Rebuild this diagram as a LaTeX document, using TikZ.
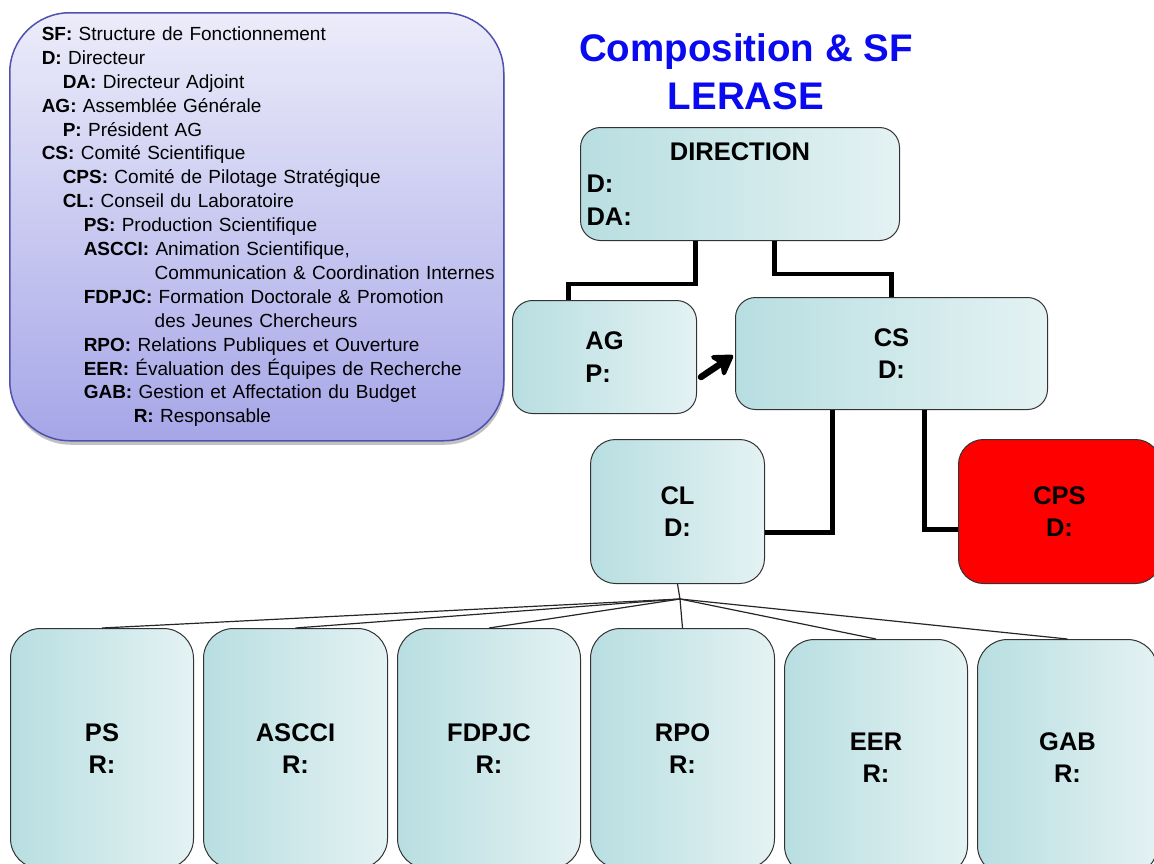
\documentclass[tikz,border=0pt]{standalone}
\usepackage{fontspec}
\setmainfont{Liberation Sans}
\usetikzlibrary{arrows.meta,shadows}
\definecolor{lavtop}{HTML}{ECECFA}
\definecolor{lavbot}{HTML}{A6A6E8}
\definecolor{lavline}{HTML}{5050AE}
\definecolor{tealL}{HTML}{B8DEE1}
\definecolor{tealR}{HTML}{E4F2F3}
\definecolor{boxline}{HTML}{333333}
\definecolor{titleblue}{HTML}{0A0AF0}
\newcommand{\legitem}[3]{\hspace*{#1pt}\textbf{#2:} #3}
\begin{document}
\begin{tikzpicture}[x=1pt,y=-1pt,
  orgbox/.style={draw=boxline, line width=1pt, rounded corners=20pt, anchor=north west,
    inner sep=0pt, font=\fontsize{25.5}{32.5}\selectfont\bfseries},
  tealbox/.style={orgbox, left color=tealL, right color=tealR},
  redbox/.style={orgbox, fill=red},
  thickconn/.style={line width=4.5pt, line join=miter},
  thinconn/.style={line width=1.2pt, draw=black!85},
  legendbox/.style={draw=lavline, line width=1.5pt, rounded corners=60pt, top color=lavtop,
    bottom color=lavbot, anchor=north west, minimum width=494pt, minimum height=428pt,
    inner xsep=7pt, inner ysep=0pt, text width=480pt, align=left,
    font=\fontsize{19}{23.9}\selectfont,
    drop shadow={shadow xshift=1pt, shadow yshift=-4pt, opacity=0.35, fill=black!70}},
  titletext/.style={text=titleblue, font=\fontsize{38.5}{48}\selectfont\bfseries, align=center, inner sep=0pt},
  bigarrow/.style={line width=6.5pt, line cap=round,
    -{Stealth[length=24pt 0, width=30pt 0, inset=7pt 0, round]}}
]
\useasboundingbox (0,0) rectangle (1154,863);
\clip (0,0) rectangle (1154,863);

% legend
\node[legendbox] (legend) at (9,12) {%
\legitem{25}{SF}{Structure de Fonctionnement}\\
\legitem{25}{D}{Directeur}\\
\legitem{46}{DA}{Directeur Adjoint}\\
\legitem{25}{AG}{Assemblée Générale}\\
\legitem{46}{P}{Président AG}\\
\legitem{25}{CS}{Comité Scientifique}\\
\legitem{46}{CPS}{Comité de Pilotage Stratégique}\\
\legitem{46}{CL}{Conseil du Laboratoire}\\
\legitem{67}{PS}{Production Scientifique}\\
\legitem{67}{ASCCI}{Animation Scientifique,}\\
\hspace*{138pt}Communication \& Coordination Internes\\
\legitem{67}{FDPJC}{Formation Doctorale \& Promotion}\\
\hspace*{138pt}des Jeunes Chercheurs\\
\legitem{67}{RPO}{Relations Publiques et Ouverture}\\
\legitem{67}{EER}{Évaluation des Équipes de Recherche}\\
\legitem{67}{GAB}{Gestion et Affectation du Budget}\\
\legitem{117}{R}{Responsable}};

% title
\node[titletext] (title) at (746,72) {Composition \& SF\\LERASE};

% boxes
\node[tealbox, minimum width=319pt, minimum height=113pt, inner xsep=6pt, text width=307pt, align=left] (dir) at (580,127)
  {\makebox[307pt][c]{DIRECTION}\\D:\\DA:};
\node[tealbox, minimum width=184pt, minimum height=113pt, align=left] (ag) at (512,300) {AG\\P:};
\node[tealbox, minimum width=312pt, minimum height=112pt, align=center] (cs) at (735,297) {CS\\D:};
\node[tealbox, rounded corners=25pt, minimum width=174pt, minimum height=144pt, align=center] (cl) at (590,439) {CL\\D:};
\node[redbox, rounded corners=25pt, minimum width=202pt, minimum height=144pt, align=center] (cps) at (958,439) {CPS\\D:};

\node[tealbox, rounded corners=30pt, minimum width=183pt, minimum height=240pt, align=center] (ps) at (10,628) {PS\\R:};
\node[tealbox, rounded corners=30pt, minimum width=184pt, minimum height=240pt, align=center] (ascci) at (203,628) {ASCCI\\R:};
\node[tealbox, rounded corners=30pt, minimum width=183pt, minimum height=240pt, align=center] (fdpjc) at (397,628) {FDPJC\\R:};
\node[tealbox, rounded corners=30pt, minimum width=184pt, minimum height=240pt, align=center] (rpo) at (590,628) {RPO\\R:};
\node[tealbox, rounded corners=30pt, minimum width=183pt, minimum height=236pt, align=center] (eer) at (784,639) {EER\\R:};
\node[tealbox, rounded corners=30pt, minimum width=180pt, minimum height=236pt, align=center] (gab) at (977,639) {GAB\\R:};

% thick connectors
\draw[thickconn] ([xshift=-44.5pt]dir.south) -- ++(0,43) -| ([xshift=-36pt]ag.north);
\draw[thickconn] ([xshift=34.5pt]dir.south) -- ++(0,33) -| (cs.north);
\draw[thickconn] ([xshift=-59pt]cs.south) |- ([yshift=-21pt]cl.east);
\draw[thickconn] ([xshift=33pt]cs.south) |- ([yshift=-18pt]cps.west);

% arrow AG -> CS
\draw[bigarrow] ([xshift=4pt,yshift=-20pt]ag.east) -- ([xshift=-2pt,yshift=-2pt]cs.west);

% thin connectors CL -> children
\coordinate (hub) at (680,599);
\draw[thinconn] (cl.south) -- (hub);
\foreach \n in {ps,ascci,fdpjc,rpo,eer,gab} {\draw[thinconn] (hub) -- (\n.north);}
\end{tikzpicture}
\end{document}
